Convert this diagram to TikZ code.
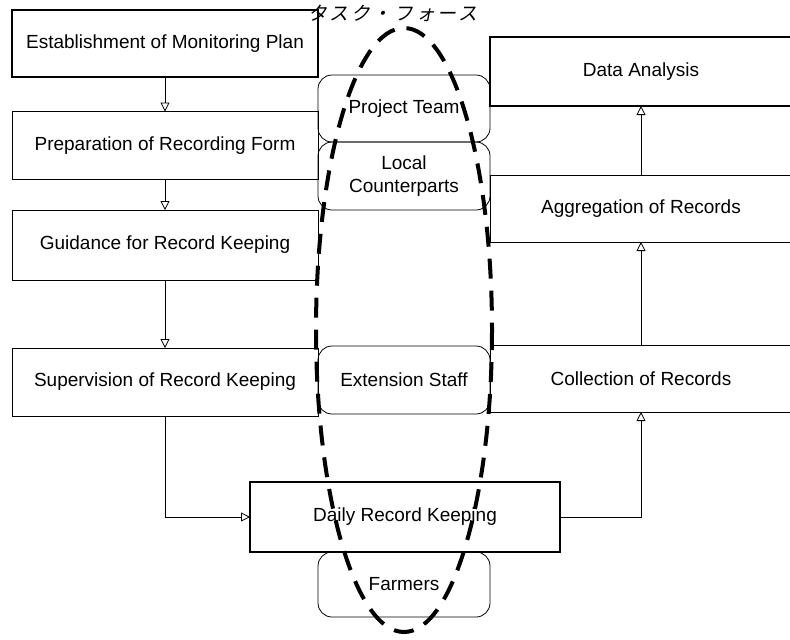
\documentclass[tikz,border=0pt]{standalone}
\usepackage{fontspec}
\setmainfont{Liberation Sans}
\newfontfamily\jpfont[FakeSlant=0.2, LetterSpace=14]{Noto Sans CJK JP}
\usepackage{tikz}
\usetikzlibrary{arrows.meta}

\begin{document}
\begin{tikzpicture}[x=1pt, y=-1pt,
    flowbox/.style={draw, line width=0.8pt, inner sep=0pt, outer sep=0pt,
        minimum width=306pt, minimum height=68pt, align=center,
        font=\fontsize{19}{22.5}\selectfont},
    thickbox/.style={flowbox, line width=2pt},
    rolebox/.style={flowbox, rounded corners=14pt, minimum width=172pt},
    flow/.style={line width=0.8pt, -{Triangle[open,width=9pt,length=9pt]}}]
    \useasboundingbox (0,0) rectangle (790,640);

    % Left column
    \node[thickbox, minimum height=67pt] (plan) at (165,43.5) {Establishment of Monitoring Plan};
    \node[flowbox] (prep) at (165,145.5) {Preparation of Recording Form};
    \node[flowbox, minimum height=70pt] (guide) at (165,245) {Guidance for Record Keeping};
    \node[flowbox] (superv) at (165,382) {Supervision of Record Keeping};

    % Right column
    \node[thickbox, minimum width=302pt, minimum height=69pt] (analysis) at (641,71.5) {Data Analysis};
    \node[flowbox, minimum width=302pt, minimum height=67pt] (aggr) at (641,208.5) {Aggregation of Records};
    \node[flowbox, minimum width=302pt, minimum height=67pt] (collect) at (641,378.5) {Collection of Records};

    % Bottom task
    \node[thickbox, minimum width=310pt, minimum height=70pt] (daily) at (405,517) {Daily Record Keeping};

    % Actors
    \node[rolebox, minimum height=67pt] (team) at (404,108.5) {Project Team};
    \node[rolebox] (counter) at (404,176) {Local\\Counterparts};
    \node[rolebox] (staff) at (404,380) {Extension Staff};
    \node[rolebox, minimum height=65pt] (farmers) at (404,584.5) {Farmers};

    % Draw flow arrows
    \draw[flow] (plan) -- (prep);
    \draw[flow] (prep) -- (guide);
    \draw[flow] (guide) -- (superv);
    \draw[flow] (superv.south) |- (daily.west);
    \draw[flow] (daily.east) -| (collect.south);
    \draw[flow] (collect) -- (aggr);
    \draw[flow] (aggr) -- (analysis);

    % Task force ellipse
    \draw[line width=4pt, dash pattern=on 20pt off 12pt] (404,330) ellipse (88 and 302);
    \node[font=\jpfont\fontsize{19}{22}\selectfont] (force) at (393,13) {タスク・フォース};
\end{tikzpicture}
\end{document}
